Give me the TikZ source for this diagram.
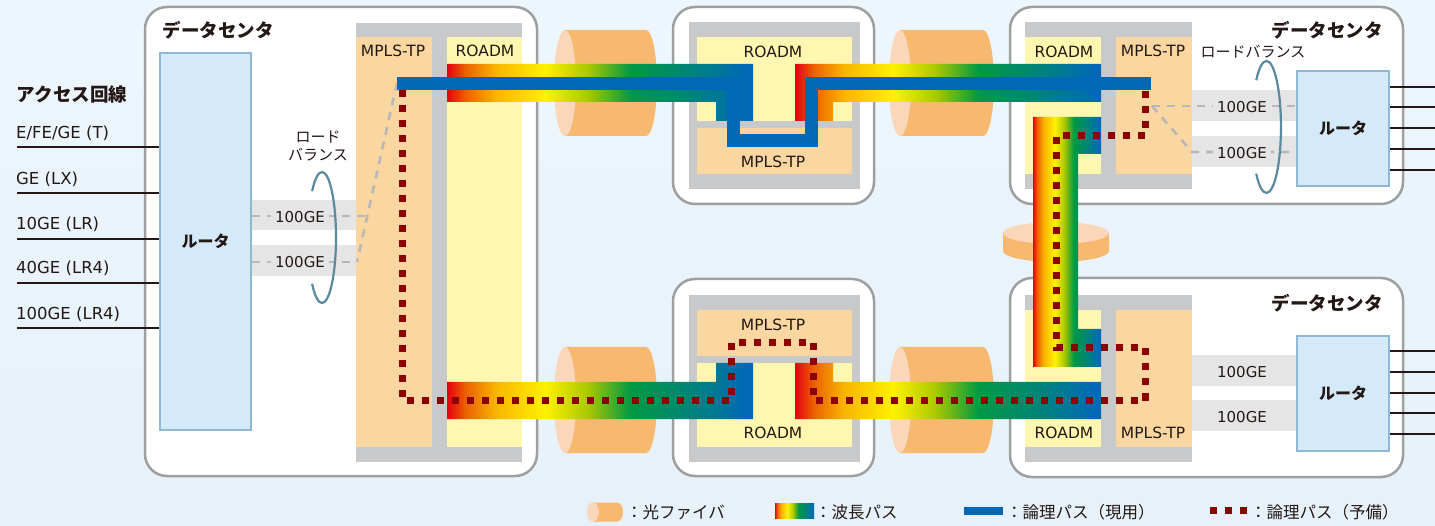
\documentclass[tikz,border=0pt]{standalone}
\usepackage{fontspec}
\setmainfont{DejaVu Sans}
\newfontfamily\jp{Noto Sans CJK JP}
\usetikzlibrary{calc}
\definecolor{bgtop}{RGB}{238,246,253}
\definecolor{bgbot}{RGB}{230,241,250}
\definecolor{boxline}{RGB}{158,160,160}
\definecolor{blockgray}{RGB}{200,201,202}
\definecolor{mpls}{RGB}{250,214,160}
\definecolor{roadm}{RGB}{255,247,176}
\definecolor{routerfill}{RGB}{213,234,248}
\definecolor{routerline}{RGB}{142,184,214}
\definecolor{band}{RGB}{229,229,229}
\definecolor{fiber}{RGB}{247,184,112}
\definecolor{fiberend}{RGB}{250,215,184}
\definecolor{pblue}{RGB}{0,104,183}
\definecolor{dred}{RGB}{140,0,0}
\definecolor{txt}{RGB}{35,24,21}
\definecolor{ring}{RGB}{90,138,160}
\definecolor{dashgray}{RGB}{184,184,184}
\definecolor{wred}{RGB}{230,0,18}
\definecolor{worange}{RGB}{235,97,0}
\definecolor{wamber}{RGB}{248,181,0}
\definecolor{wyellow}{RGB}{255,241,0}
\definecolor{wlime}{RGB}{170,200,0}
\definecolor{wgreen}{RGB}{0,153,68}
\definecolor{wteal}{RGB}{0,136,110}
\definecolor{wtealb}{RGB}{0,120,150}
\definecolor{wblue}{RGB}{0,104,183}
\pgfdeclarehorizontalshading{wave}{100bp}{color(0bp)=(wred); color(25bp)=(wred); color(28bp)=(worange); color(33bp)=(wamber); color(41bp)=(wyellow); color(48bp)=(wlime); color(55bp)=(wgreen); color(63bp)=(wteal); color(69bp)=(wtealb); color(74bp)=(wblue); color(100bp)=(wblue)}
\newcommand\hcyl[5]{%
  \fill[fiber] (#1,#3-#5) -- (#2-#4,#3-#5) arc[start angle=-90, end angle=90, x radius=#4, y radius=#5] -- (#1,#3+#5) -- cycle;
  \fill[fiberend] (#1,#3) ellipse[x radius=#4, y radius=#5];
}
\begin{document}
\begin{tikzpicture}[x=1pt,y=-1pt, line join=miter,
  dcbox/.style={draw=boxline, line width=2.5pt, fill=white, rounded corners=22pt},
  lbl/.style={text=txt, inner sep=0pt, font=\fontsize{15.5}{17}\selectfont},
  acc/.style={text=txt, inner sep=0pt, anchor=west, font=\fontsize{16.5}{18}\selectfont},
  gelbl/.style={text=txt, fill=band, inner xsep=4pt, inner ysep=2pt, font=\fontsize{15}{17}\selectfont},
  jlbl/.style={text=txt, inner sep=0pt, font=\jp\fontsize{15}{17}\selectfont},
  jbold/.style={text=txt, inner sep=0pt, font=\jp\bfseries\fontsize{18.5}{20}\selectfont},
  legtxt/.style={text=txt, inner sep=0pt, anchor=west, font=\jp\fontsize{16.5}{18}\selectfont},
  routerbox/.style={draw=routerline, line width=2pt, fill=routerfill, inner sep=0pt, text=txt, font=\jp\bfseries\fontsize{16}{18}\selectfont},
  prim/.style={draw=pblue, line width=13pt},
  backup/.style={draw=dred, line width=7pt, dash pattern=on 7pt off 8pt},
  lbdash/.style={draw=dashgray, line width=2.6pt, dash pattern=on 8pt off 7pt},
  ringline/.style={draw=ring, line width=2.2pt},
  access/.style={draw=txt, line width=2.5pt},
]
\useasboundingbox (0,0) rectangle (1435,526);
\shade[top color=bgtop, bottom color=bgbot] (0,0) rectangle (1435,526);

% ---- site boxes
\draw[dcbox] (145,7) rectangle (537,476);
\draw[dcbox] (673,7) rectangle (874,204);
\draw[dcbox] (673,279) rectangle (874,476);
\draw[dcbox] (1010,7) rectangle (1403,204);
\draw[dcbox] (1010,278) rectangle (1403,477);

% ---- equipment blocks
\fill[blockgray] (356,23) rectangle (522,462);
\fill[mpls] (356,37) rectangle (432,447);
\fill[roadm] (447,37) rectangle (522,447);

\fill[blockgray] (689,22) rectangle (860,189);
\fill[roadm] (697,37) rectangle (852,121);
\fill[mpls] (697,128) rectangle (852,174);

\fill[blockgray] (689,295) rectangle (860,462);
\fill[mpls] (697,310) rectangle (852,356);
\fill[roadm] (697,363) rectangle (852,447);

\fill[blockgray] (1025,22) rectangle (1192,189);
\fill[roadm] (1025,37) rectangle (1101,174);
\fill[mpls] (1116,37) rectangle (1192,174);

\fill[blockgray] (1025,295) rectangle (1192,462);
\fill[roadm] (1025,310) rectangle (1101,447);
\fill[mpls] (1116,310) rectangle (1192,447);

% ---- 100GE bands
\fill[band] (251,200) rectangle (356,230);
\fill[band] (251,245) rectangle (356,276);
\fill[band] (1192,90) rectangle (1297,121);
\fill[band] (1192,136) rectangle (1297,167);
\fill[band] (1192,355) rectangle (1297,386);
\fill[band] (1192,400) rectangle (1297,431);

% ---- routers
\node[routerbox, minimum width=91pt, minimum height=377pt] (r1) at (205.5,241.5) {ルータ};
\node[routerbox, minimum width=92pt, minimum height=115pt] (r2) at (1343,128.5) {ルータ};
\node[routerbox, minimum width=92pt, minimum height=115pt] (r3) at (1343,393.5) {ルータ};

% ---- access lines (left)
\foreach \yy/\tx/\ty [count=\i] in {147/E\slash FE\slash GE (T)/133, 193/GE (LX)/179, 239/10GE (LR)/224, 283/40GE (LR4)/268, 328/100GE (LR4)/314} {
  \coordinate (al\i) at (17,\yy);
  \draw[access] (al\i) -- (al\i -| r1.west);
  \node[acc] (alt\i) at (16,\ty) {\tx};
}
% ---- router lines (right)
\foreach \yy [count=\i] in {87,107,128,149,170} {
  \coordinate (ar\i) at (1435,\yy);
  \draw[access] (ar\i -| r2.east) -- (ar\i);
}
\foreach \yy [count=\i] in {351,372,393,413,434} {
  \coordinate (br\i) at (1435,\yy);
  \draw[access] (br\i -| r3.east) -- (br\i);
}

% ---- fibers
\hcyl{565}{657}{83}{11}{53}
\hcyl{900}{994}{83}{11}{53}
\hcyl{565}{657}{400}{11}{53}
\hcyl{900}{994}{400}{11}{53}
\fill[fiber] (1003,233) -- (1003,251) arc[start angle=180, end angle=0, x radius=53, y radius=11] -- (1109,233) -- cycle;
\fill[fiberend] (1056,233) ellipse[x radius=53, y radius=11];

% ---- load-balance dashed links
\coordinate (la) at (397,83);
\coordinate (lb) at (357,262);
\coordinate (lc) at (367,216);
\draw[lbdash] (r1.east |- lc) -- (lc);
\draw[lbdash] (r1.east |- lb) -- (lb);
\draw[lbdash] (la) -- (lb);
\node[gelbl] (ge1) at (300,217) {100GE};
\node[gelbl] (ge2) at (300,262) {100GE};

\coordinate (ra) at (1152,106);
\coordinate (rb) at (1192,152);
\draw[lbdash] (ra) -- (ra -| r2.west);
\draw[lbdash] (ra) -- (rb) -- (rb -| r2.west);
\node[gelbl] (ge3) at (1242,107) {100GE};
\node[gelbl] (ge4) at (1242,153) {100GE};
\node[gelbl] (ge5) at (1242,372) {100GE};
\node[gelbl] (ge6) at (1242,417) {100GE};

% ---- load-balance rings
\draw[ringline] (312.1,191.2) arc[start angle=225, end angle=495, x radius=14, y radius=65.5];
\draw[ringline] (1256.2,80.3) arc[start angle=225, end angle=495, x radius=14.5, y radius=66];

% ---- wavelength paths
\shade[shading=wave] (447,64) -- (753,64) -- (753,121) -- (716,121) -- (716,102) -- (447,102) -- cycle;
\shade[shading=wave] (795,64) -- (1101,64) -- (1101,102) -- (833,102) -- (833,121) -- (795,121) -- cycle;
\shade[shading=wave] (447,382) -- (716,382) -- (716,363) -- (753,363) -- (753,419) -- (447,419) -- cycle;
\shade[shading=wave] (795,363) -- (833,363) -- (833,382) -- (1101,382) -- (1101,419) -- (795,419) -- cycle;
\shade[shading=wave] (1033,117) -- (1101,117) -- (1101,154) -- (1078,154) -- (1078,329) -- (1101,329) -- (1101,367) -- (1033,367) -- cycle;

% ---- logical path (working)
\coordinate (w0) at (397,83.5);
\coordinate (w1) at (1151,83.5);
\draw[prim] (w0) -- (733.5,83.5) -- (733.5,141) -- (811.5,141) -- (811.5,83.5) -- (w1);

% ---- logical path (backup)
\coordinate (b0) at (402,90.5);
\coordinate (b1) at (1145,90.5);
\draw[backup] (b0) -- (402,401) -- (731,401) -- (731,343) -- (813,343) -- (813,401) -- (1145,401) -- (1145,348) -- (1056,348) -- (1056,136) -- (1145,136) -- (b1);

% ---- labels
\node[jbold] (dc1) at (218,30) {データセンタ};
\node[jbold] (dc2) at (1327,30) {データセンタ};
\node[jbold] (dc3) at (1327,303) {データセンタ};
\node[jbold] (acc) at (72,94) {アクセス回線};
\node[jlbl] (lb1) at (318,137) {ロード};
\node[jlbl] (lb2) at (318,155) {バランス};
\node[jlbl] (lb3) at (1253,52) {ロードバランス};

\node[lbl] (m1) at (393,51) {MPLS-TP};
\node[lbl] (o1) at (485,51) {ROADM};
\node[lbl] (o2) at (773,52) {ROADM};
\node[lbl] (m2) at (773,162) {MPLS-TP};
\node[lbl] (m3) at (773,325) {MPLS-TP};
\node[lbl] (o3) at (773,433) {ROADM};
\node[lbl] (o4) at (1064,52) {ROADM};
\node[lbl] (m4) at (1153,51) {MPLS-TP};
\node[lbl] (o5) at (1064,433) {ROADM};
\node[lbl] (m5) at (1153,433) {MPLS-TP};

% ---- legend
\hcyl{593}{623}{512}{6}{9.5}
\node[legtxt] (lg1) at (626,512) {：光ファイバ};
\shade[shading=wave] (775,503) rectangle (814,518);
\node[legtxt] (lg2) at (815,512) {：波長パス};
\fill[pblue] (964,507) rectangle (1003,515);
\node[legtxt] (lg3) at (1006,512) {：論理パス（現用）};
\coordinate (d0) at (1210,510.5);
\coordinate (d1) at (1248,510.5);
\draw[backup] (d0) -- (d1);
\node[legtxt] (lg4) at (1250,512) {：論理パス（予備）};
\end{tikzpicture}
\end{document}
